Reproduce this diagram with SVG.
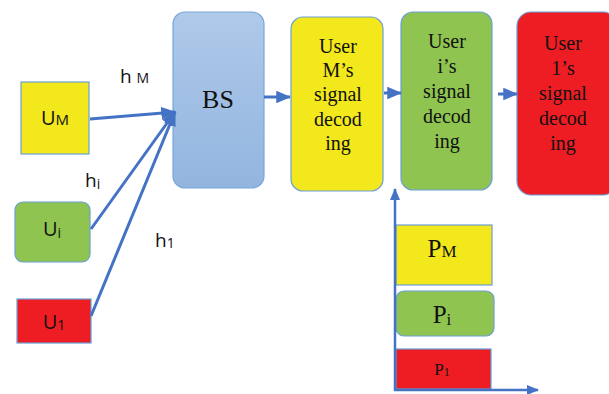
<svg xmlns="http://www.w3.org/2000/svg" width="609" height="394" viewBox="0 0 609 394">
  <defs>
    <linearGradient id="bsFill" x1="0" y1="0" x2="0" y2="1">
      <stop offset="0" stop-color="#AFC9E9"/>
      <stop offset="1" stop-color="#92B5DF"/>
    </linearGradient>
    <marker id="head" viewBox="0 0 12 10" refX="11" refY="5" markerWidth="5" markerHeight="4.2" orient="auto" markerUnits="strokeWidth">
      <path d="M0,0 L12,5 L0,10 Z" fill="#4472C4"/>
    </marker>
  </defs>
  <style>
    .box { stroke: #6A9FD6; stroke-width: 1.2; }
    .yellow { fill: #F2E81B; }
    .green { fill: #8FC451; }
    .red { fill: #EE1D24; }
    .sans { font-family: "Open Sans", "Liberation Sans", Arial, sans-serif; fill: #111; }
    .serif { font-family: "Liberation Serif", "Times New Roman", serif; fill: #111; }
    .dec { font-size: 20px; text-anchor: middle; }
    .conn { stroke: #4472C4; stroke-width: 3; fill: none; marker-end: url(#head); }
    .axis { stroke: #4472C4; stroke-width: 2.5; fill: none; marker-end: url(#head); }
  </style>

  <!-- user terminals -->
  <g id="uM">
    <rect class="box yellow" x="21" y="82" width="68" height="72"/>
    <text class="sans" x="55" y="125" font-size="20" text-anchor="middle">U<tspan font-size="15">M</tspan></text>
  </g>
  <g id="ui">
    <rect class="box green" x="15" y="202" width="75" height="60" rx="8"/>
    <text class="sans" x="52" y="236" font-size="20" text-anchor="middle">U<tspan font-size="14" dy="2">i</tspan></text>
  </g>
  <g id="u1">
    <rect class="box red" x="17" y="299" width="74" height="44"/>
    <text class="sans" x="54" y="329" font-size="20" text-anchor="middle">U<tspan font-size="14" dy="1">1</tspan></text>
  </g>

  <!-- channel labels -->
  <g id="labels">
    <text class="sans" x="120" y="83" font-size="19">h <tspan font-size="14">M</tspan></text>
    <text class="sans" x="85" y="187" font-size="19">h<tspan font-size="14" dy="2">i</tspan></text>
    <text class="sans" x="155" y="247" font-size="19">h<tspan font-size="14" dy="1">1</tspan></text>
  </g>

  <!-- base station -->
  <g id="bs">
    <rect x="173" y="12" width="91" height="176" rx="12" fill="url(#bsFill)" stroke="#78A7DA" stroke-width="1.2"/>
    <text class="serif" x="218" y="108" font-size="26" text-anchor="middle">BS</text>
  </g>

  <!-- SIC decoding stages -->
  <g id="decM">
    <rect class="box yellow" x="291" y="17" width="92" height="174" rx="12"/>
    <text class="serif dec" x="338" y="53">User</text>
    <text class="serif dec" x="338" y="77">M’s</text>
    <text class="serif dec" x="338" y="101">signal</text>
    <text class="serif dec" x="338" y="126">decod</text>
    <text class="serif dec" x="338" y="150">ing</text>
  </g>
  <g id="deci">
    <rect class="box green" x="401" y="12" width="91" height="178" rx="12"/>
    <text class="serif dec" x="447" y="48">User</text>
    <text class="serif dec" x="447" y="73">i’s</text>
    <text class="serif dec" x="447" y="98">signal</text>
    <text class="serif dec" x="447" y="123">decod</text>
    <text class="serif dec" x="447" y="148">ing</text>
  </g>
  <g id="dec1">
    <rect class="box red" x="517" y="12" width="100" height="183" rx="14"/>
    <text class="serif dec" x="563" y="50">User</text>
    <text class="serif dec" x="563" y="75">1’s</text>
    <text class="serif dec" x="563" y="100">signal</text>
    <text class="serif dec" x="563" y="125">decod</text>
    <text class="serif dec" x="563" y="150">ing</text>
  </g>

  <!-- power levels -->
  <g id="pM">
    <rect class="box yellow" x="396" y="225" width="96" height="60"/>
    <text class="serif" x="442" y="257" font-size="25" text-anchor="middle">P<tspan font-size="17">M</tspan></text>
  </g>
  <g id="pi">
    <rect class="box green" x="396" y="291" width="98" height="45" rx="8"/>
    <text class="serif" x="442" y="323" font-size="25" text-anchor="middle">P<tspan font-size="17" dy="2">i</tspan></text>
  </g>
  <g id="p1">
    <rect class="box red" x="396" y="349" width="95" height="40"/>
    <text class="serif" x="442" y="375" font-size="17" text-anchor="middle">P<tspan font-size="12" dy="1">1</tspan></text>
  </g>

  <!-- connectors -->
  <g id="connectors">
    <line class="conn" x1="90" y1="119" x2="175" y2="112"/>
    <line class="conn" x1="91" y1="229" x2="175" y2="112"/>
    <line class="conn" x1="91" y1="316" x2="175" y2="112"/>
    <line class="conn" x1="264" y1="97" x2="290" y2="97"/>
    <line class="conn" x1="384" y1="93" x2="401" y2="93"/>
    <line class="conn" x1="498" y1="94" x2="517" y2="94"/>
    <line class="axis" x1="395" y1="391" x2="395" y2="189"/>
    <line class="axis" x1="394" y1="390" x2="538" y2="390"/>
  </g>
</svg>
